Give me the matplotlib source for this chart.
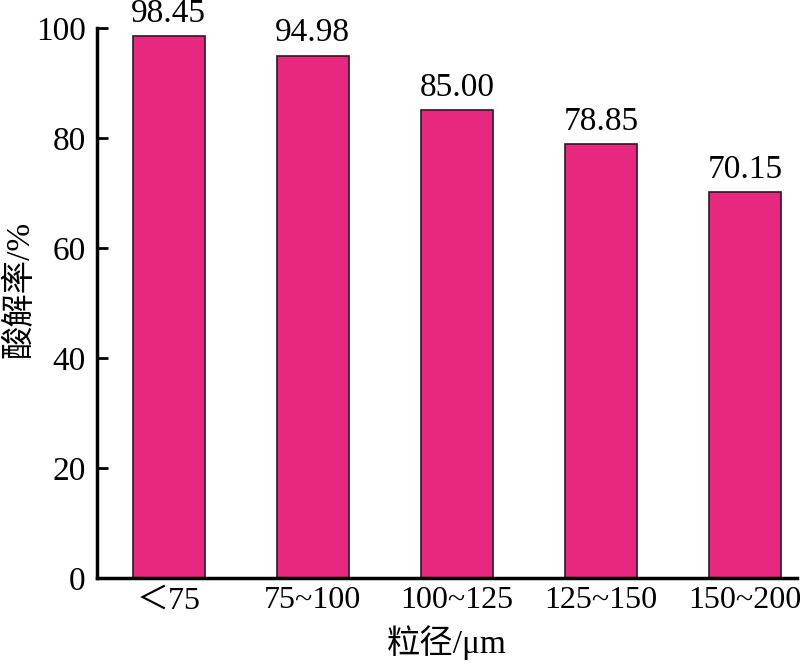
import matplotlib
matplotlib.use('Agg')
from matplotlib import pyplot as plt

# 粒径分组与酸解率
粒径 = ['＜75', '75~100', '100~125', '125~150', '150~200']
酸解率 = [98.45, 94.98, 85.00, 78.85, 70.15]
rotulos = ['98.45', '94.98', '85.00', '78.85', '70.15']

plt.rcParams['font.family'] = ['Liberation Serif', 'Noto Sans CJK SC']
plt.rcParams['font.size'] = 24

fig = plt.figure(figsize=(8, 6.66), dpi=100)
ax = fig.add_axes([0.121, 0.132, 0.875, 0.826])

x = list(range(len(粒径)))
barras = ax.bar(x, 酸解率, width=0.5, color='#E8277F', edgecolor='#2a1a1a', linewidth=1.2)
for b, r in zip(barras, rotulos):
    ax.text(b.get_x() + b.get_width() / 2, b.get_height() + 1.3, r,
            ha='center', va='bottom', fontsize=24)

ax.set_xlim(-0.5, 4.36)
ax.set_ylim(0, 100)
ax.set_yticks([0, 20, 40, 60, 80, 100])
ax.set_xticks(x)
ax.set_xticklabels(粒径)
ax.tick_params(axis='y', direction='in', length=8, width=2, pad=8, labelsize=24)
ax.tick_params(axis='x', length=0, pad=6, labelsize=23)

for s in ['top', 'right']:
    ax.spines[s].set_visible(False)
ax.spines['left'].set_linewidth(2.5)
ax.spines['bottom'].set_linewidth(2.5)

ax.set_xlabel('粒径/μm', fontsize=24)
ax.xaxis.set_label_coords(0.5, -0.085)
yl = ax.set_ylabel('酸解率/%', fontsize=24)
ax.yaxis.set_label_coords(-0.11, 0.524)
yl.set_va('center')

plt.savefig('out.png', dpi=100)
